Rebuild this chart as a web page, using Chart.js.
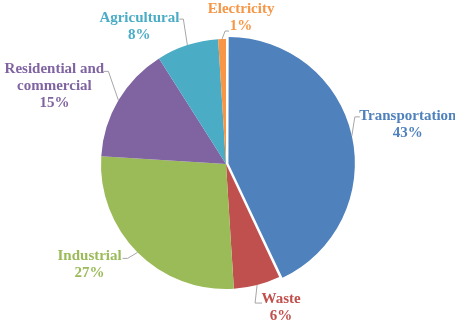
<!DOCTYPE html>
<html><head><meta charset="utf-8">
<script src="https://cdn.jsdelivr.net/npm/chart.js@4"></script>
<style>html,body{margin:0;padding:0;background:#fff;}#wrap{width:455px;height:321px;}</style>
</head><body><div id="wrap"><canvas id="c" width="455" height="321"></canvas></div>
<script>
const categories = ['Transportation', 'Waste', 'Industrial', 'Residential and commercial', 'Agricultural', 'Electricity'];
const shares = [43, 6, 27, 15, 8, 1];
const labelLines = [['Transportation'], ['Waste'], ['Industrial'], ['Residential and', 'commercial'], ['Agricultural'], ['Electricity']];
const colors = ['#4F81BD', '#C0504D', '#9BBB59', '#8064A2', '#4BACC6', '#F79646'];
const explode = [10, 0, 0, 0, 0, 0];

// label layout relative to the slice's outer edge anchor: [labelDx, labelDy, elbowDx, elbowDy, endDx, endDy]
const labelLayout = [
  [56, -11, 3, -19, 8, -19],
  [24, 23, -2, 18, 5, 18],
  [-48, 12, -10, 6, -15, 6],
  [-64, -14, -10, -29, -15, -29],
  [-48, -18, -4, -26, -8, -26],
  [19, -21, 3, -8, 7, -8]
];

const labelPlugin = {
  id: 'outLabels',
  afterDatasetsDraw(chart) {
    const ctx = chart.ctx;
    const meta = chart.getDatasetMeta(0);
    const lh = 17;
    ctx.save();
    ctx.font = 'bold 15px "Liberation Serif", "Times New Roman", serif';
    ctx.textAlign = 'center';
    ctx.textBaseline = 'middle';
    meta.data.forEach((arc, i) => {
      const p = arc.getProps(['x', 'y', 'startAngle', 'endAngle', 'outerRadius', 'circumference']);
      const mid = (p.startAngle + p.endAngle) / 2;
      const off = explode[i] / 4;
      const fix = 1 - Math.sin(Math.min(Math.PI, p.circumference));
      const shift = off + off * fix;
      const ax = p.x + Math.cos(mid) * (p.outerRadius + shift);
      const ay = p.y + Math.sin(mid) * (p.outerRadius + shift);
      const L = labelLayout[i];
      ctx.strokeStyle = '#A6A6A6';
      ctx.lineWidth = 1;
      ctx.beginPath();
      ctx.moveTo(ax, ay);
      ctx.lineTo(ax + L[2], ay + L[3]);
      ctx.lineTo(ax + L[4], ay + L[5]);
      ctx.stroke();
      const lines = labelLines[i].concat([shares[i] + '%']);
      const cx = ax + L[0], cy = ay + L[1];
      const top = cy - (lines.length - 1) * lh / 2;
      ctx.fillStyle = colors[i];
      lines.forEach((t, k) => ctx.fillText(t, cx, top + k * lh));
    });
    ctx.restore();
  }
};

new Chart(document.getElementById('c'), {
  type: 'pie',
  data: {
    labels: categories,
    datasets: [{
      data: shares,
      backgroundColor: colors,
      borderWidth: 0,
      offset: explode,
      radius: 125
    }]
  },
  options: {
    responsive: false,
    animation: false,
    layout: { padding: { left: 0, right: 3, top: 7, bottom: 0 } },
    plugins: { legend: { display: false }, tooltip: { enabled: false } }
  },
  plugins: [labelPlugin]
});
</script>
</body></html>
